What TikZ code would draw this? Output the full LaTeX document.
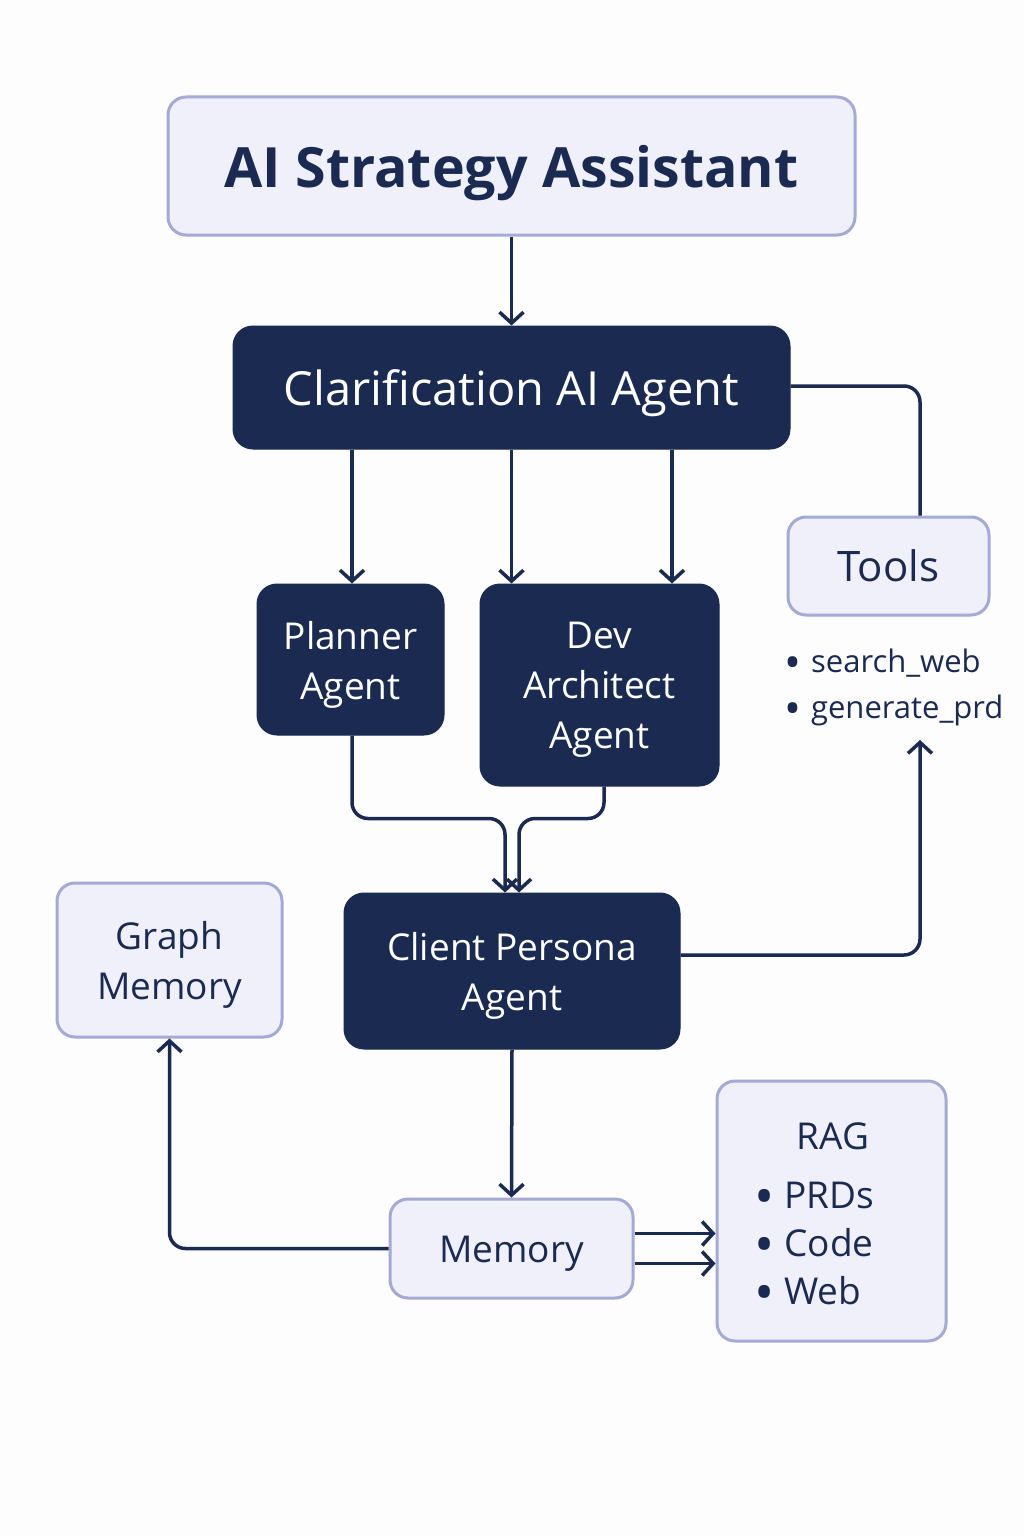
\documentclass[tikz,border=0pt]{standalone}
\usepackage{fontspec}
\setmainfont{Open Sans}
\usetikzlibrary{arrows.meta}
\definecolor{navy}{HTML}{1A2A50}
\definecolor{lightfill}{HTML}{EFF0FA}
\definecolor{lightborder}{HTML}{A5AAD5}
\definecolor{bg}{HTML}{FDFDFE}
\newcommand{\bul}{\smash{\raisebox{-0.2em}{\scalebox{1.45}{\textbullet}}}}
\tikzset{
  lightbox/.style={draw=lightborder, fill=lightfill, line width=3pt, rounded corners=18pt, text=navy, align=center, inner sep=0pt},
  darkbox/.style={draw=navy, fill=navy, line width=1pt, rounded corners=20pt, text=white, align=center, inner sep=0pt},
  pushdown/.style={execute at begin node={\rule{0pt}{#1}}},
  conn/.style={draw=navy, line width=3.5pt, rounded corners=16pt},
  arr/.style={conn, -{Straight Barb[length=11pt,width=24pt,line width=3.5pt]}},
  bigfont/.style={font=\fontsize{55.5}{70}\selectfont\bfseries},
  midfont/.style={font=\fontsize{47}{52}\selectfont},
  labfont/.style={font=\fontsize{37}{50}\selectfont},
  smallfont/.style={font=\fontsize{31}{36}\selectfont},
  listtext/.style={anchor=base west, text=navy, inner sep=0pt},
  darktext/.style={labfont, text=white, align=center, inner sep=0pt},
  lighttext/.style={labfont, text=navy, align=center, inner sep=0pt},
}
\begin{document}
\begin{tikzpicture}[x=1pt,y=-1pt]
\useasboundingbox (0,0) rectangle (1024,1536);
\fill[bg] (0,0) rectangle (1024,1536);

\node[lightbox, minimum width=687pt, minimum height=138pt, bigfont, pushdown=1em] (title) at (511.5,166) {AI Strategy Assistant};
\node[darkbox, minimum width=557pt, minimum height=123pt, midfont, pushdown=1em] (clar) at (511.5,387.5) {Clarification AI Agent};

\node[darkbox, minimum width=187pt, minimum height=151pt] (plan) at (350.5,659.5) {};
\node[darktext] (plantext) at (350.5,664.5) {Planner\\Agent};
\node[darkbox, minimum width=239pt, minimum height=202pt] (dev) at (599.5,685) {};
\node[darktext] (devtext) at (599.5,690) {Dev\\Architect\\Agent};

\node[lightbox, minimum width=201pt, minimum height=98pt, font=\fontsize{42}{50}\selectfont] (tools) at (888.5,566) {Tools};
\node[listtext, smallfont] (t1) at (784,672) {\bul\hspace{10pt}search\_web};
\node[listtext, smallfont] (t2) at (784,718) {\bul\hspace{10pt}generate\_prd};
\coordinate (toolsin) at (920,740);

\node[darkbox, minimum width=336pt, minimum height=156pt] (client) at (512,971) {};
\node[darktext] (clienttext) at (512,976) {Client Persona\\Agent};
\node[lightbox, minimum width=225pt, minimum height=154pt] (graph) at (169.5,960) {};
\node[lighttext] (graphtext) at (169.5,965) {Graph\\Memory};

\node[lightbox, minimum width=243pt, minimum height=99pt, labfont, pushdown=1em] (mem) at (511.5,1248.5) {Memory};
\node[lightbox, minimum width=229pt, minimum height=260pt] (rag) at (831.5,1211) {};
\node[anchor=base, text=navy, labfont, inner sep=0pt] (ragt) at (833,1149) {RAG};
\node[listtext, labfont] (r1) at (754,1208) {\bul\hspace{10pt}PRDs};
\node[listtext, labfont] (r2) at (754,1256) {\bul\hspace{10pt}Code};
\node[listtext, labfont] (r3) at (754,1304) {\bul\hspace{10pt}Web};

% connectors
\draw[arr] ([xshift=1.5pt]clar.south -| plan.south) -- ([xshift=1.5pt]plan.north);
\draw[arr] (title.south) -- (clar.north);
\draw[arr] (clar.south) -- (clar.south |- dev.north);
\draw[arr] ([xshift=160.5pt]clar.south) -- ([xshift=72.5pt]dev.north);
\draw[conn] (clar.east |- 0,386) -- (920,386) -- (tools.north -| 920,0);
\draw[arr] ([xshift=1.5pt]plan.south) -- ++(0,83) -| ([xshift=-7pt]client.north);
\draw[arr] ([xshift=4.5pt]dev.south) -- ++(0,32) -| ([xshift=7pt]client.north);
\draw[arr] (client.east |- 0,955) -- (920,955) -- (toolsin);
\draw[arr] (client.south) -- (mem.north);
\draw[arr] (mem.west) -- (graph.south |- mem.west) -- (graph.south);
\draw[arr] ([yshift=15pt]mem.east) -- (rag.west |- 0,1233.5);
\draw[arr] ([yshift=-15pt]mem.east) -- (rag.west |- 0,1263.5);
\end{tikzpicture}
\end{document}
